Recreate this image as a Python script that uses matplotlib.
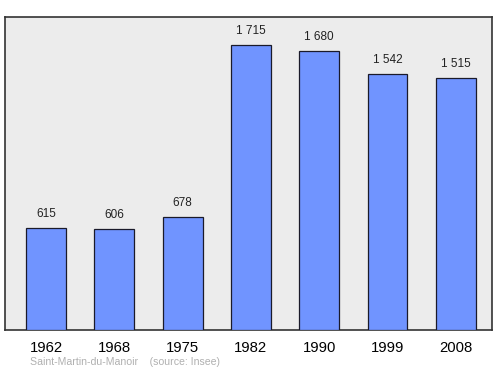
import matplotlib
matplotlib.use('Agg')
import matplotlib.pyplot as plt

plt.rcParams['font.family'] = ['Liberation Sans', 'DejaVu Sans']

years = ['1962', '1968', '1975', '1982', '1990', '1999', '2008']
population = [615, 606, 678, 1715, 1680, 1542, 1515]
value_labels = ['615', '606', '678', '1 715', '1 680', '1 542', '1 515']

fig = plt.figure(figsize=(5, 3.74), dpi=100)
ax = fig.add_axes([0.01, 0.1176, 0.974, 0.837])
ax.set_facecolor('#ececec')

x = range(len(years))
ax.bar(x, population, width=0.585, color='#7094ff', edgecolor='#1a1a2a', linewidth=0.9, zorder=3)

for i, (v, lab) in enumerate(zip(population, value_labels)):
    ax.text(i, v + 50, lab, ha='center', va='bottom', fontsize=8.5, color='#222222')

ax.set_xlim(-0.6, 6.53)
ax.set_ylim(0, 1885)
ax.set_yticks([])
ax.set_xticks(list(x))
ax.set_xticklabels(years, fontsize=10.7)
ax.tick_params(axis='x', length=0, pad=8)
for s in ax.spines.values():
    s.set_color('#333333')
    s.set_linewidth(1.2)

fig.text(0.06, 0.025, 'Saint-Martin-du-Manoir    (source: Insee)', fontsize=7.6, color='#b0b0b0')

fig.savefig('out.png', dpi=100)
